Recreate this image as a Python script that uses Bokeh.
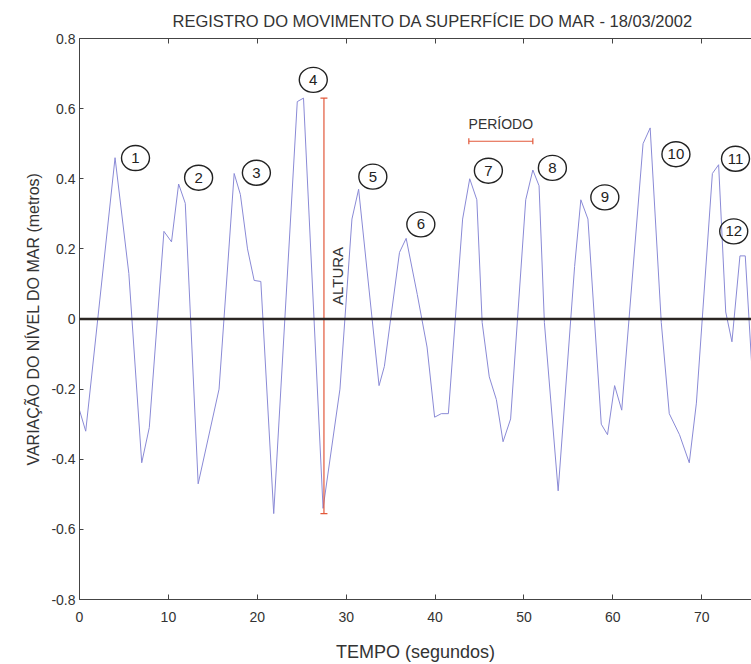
import math
from bokeh.plotting import figure
from bokeh.models import Span, LinearAxis, Range1d, FixedTicker, CustomJSTickFormatter, ColumnDataSource
from bokeh.core.properties import value
from bokeh.embed import file_html
from bokeh.resources import INLINE

# ---- data ----
tempo = [0.0, 0.7, 4.0, 5.55, 7.0, 7.85, 9.5, 10.35, 11.15, 11.9, 13.35, 15.7,
         17.4, 18.1, 18.9, 19.65, 20.4, 21.85, 24.5, 25.2, 27.4, 29.3, 30.65, 31.4,
         33.7, 34.3, 36.0, 36.75, 38.0, 39.1, 39.95, 40.7, 41.5, 43.1, 43.9, 44.7,
         45.3, 46.1, 46.9, 47.65, 48.5, 50.2, 51.0, 51.7, 52.3, 53.85, 55.7, 56.4,
         57.2, 58.7, 59.4, 60.2, 61.0, 63.4, 64.2, 65.45, 66.35, 67.5, 68.6, 69.4,
         71.2, 71.9, 72.7, 73.4, 74.3, 74.9, 75.9]
nivel = [-0.26, -0.32, 0.46, 0.13, -0.41, -0.31, 0.25, 0.22, 0.385, 0.33, -0.47, -0.20,
         0.415, 0.355, 0.20, 0.11, 0.107, -0.555, 0.62, 0.63, -0.54, -0.20, 0.285, 0.37,
         -0.19, -0.135, 0.19, 0.23, 0.07, -0.08, -0.28, -0.27, -0.27, 0.285, 0.40, 0.34,
         -0.01, -0.165, -0.23, -0.35, -0.285, 0.34, 0.425, 0.38, -0.01, -0.49, 0.15, 0.34,
         0.285, -0.30, -0.33, -0.19, -0.26, 0.50, 0.545, -0.01, -0.27, -0.33, -0.41, -0.24,
         0.415, 0.44, 0.02, -0.065, 0.18, 0.18, -0.25]

onda_num = ["1", "2", "3", "4", "5", "6", "7", "8", "9", "10", "11", "12"]
onda_x = [6.3, 13.4, 19.9, 26.3, 33.0, 38.4, 46.0, 53.2, 59.1, 67.1, 73.8, 73.6]
onda_y = [0.459, 0.403, 0.417, 0.682, 0.406, 0.27, 0.423, 0.431, 0.347, 0.47, 0.457, 0.25]

altura_x = 27.5
altura_y = [-0.555, 0.63]
altura_label_pos = (29.0, 0.04)

periodo_x = [43.8, 51.0]
periodo_y = 0.507
periodo_label_pos = (47.4, 0.556)

x_ticks = [0, 10, 20, 30, 40, 50, 60, 70]
y_ticks = [-0.8, -0.6, -0.4, -0.2, 0, 0.2, 0.4, 0.6, 0.8]

FONT = "Liberation Sans"
AXC = "#444444"
TXT = "#333333"
WAVE = "#8a8ad6"
RED = "#e2583a"

p = figure(width=751, height=664, output_backend="svg", toolbar_location=None,
           x_range=Range1d(0, 75.6), y_range=Range1d(-0.8, 0.8),
           x_axis_location="below", y_axis_location="left",
           min_border_left=79, min_border_right=0, min_border_top=38, min_border_bottom=64)
p.outline_line_color = None
p.grid.visible = False
p.background_fill_color = "white"

p.title.text = "REGISTRO DO MOVIMENTO DA SUPERFÍCIE DO MAR - 18/03/2002"
p.title.text_font = FONT
p.title.text_font_size = "16.5px"
p.title.text_font_style = "normal"
p.title.text_color = TXT
p.title.align = "left"
p.title.offset = 93
p.title.standoff = 17

for ax in p.xaxis:
    ax.ticker = FixedTicker(ticks=x_ticks)
    ax.axis_label = "TEMPO (segundos)"
    ax.axis_label_text_font = FONT
    ax.axis_label_text_font_size = "18px"
    ax.axis_label_text_font_style = "normal"
    ax.axis_label_text_color = TXT
    ax.axis_label_standoff = 17
    ax.major_label_text_font = FONT
    ax.major_label_text_font_size = "14px"
    ax.major_label_text_color = TXT
    ax.major_label_standoff = 12
    ax.major_tick_in = 5
    ax.major_tick_out = 0
    ax.minor_tick_in = 0
    ax.minor_tick_out = 0
    ax.axis_line_color = AXC
    ax.major_tick_line_color = AXC

for ax in p.yaxis:
    ax.ticker = FixedTicker(ticks=y_ticks)
    ax.formatter = CustomJSTickFormatter(code="return Math.abs(tick) < 1e-9 ? '0' : tick.toFixed(1);")
    ax.axis_label = "VARIAÇÃO DO NÍVEL DO MAR (metros)"
    ax.axis_label_text_font = FONT
    ax.axis_label_text_font_size = "16px"
    ax.axis_label_text_font_style = "normal"
    ax.axis_label_text_color = TXT
    ax.axis_label_standoff = 6
    ax.major_label_text_font = FONT
    ax.major_label_text_font_size = "14px"
    ax.major_label_text_color = TXT
    ax.major_label_standoff = 4
    ax.major_tick_in = 4
    ax.major_tick_out = 0
    ax.minor_tick_in = 0
    ax.minor_tick_out = 0
    ax.axis_line_color = AXC
    ax.major_tick_line_color = AXC

top = LinearAxis(ticker=FixedTicker(ticks=x_ticks),
                 formatter=CustomJSTickFormatter(code="return '';"),
                 major_tick_in=5, major_tick_out=0, minor_tick_in=0, minor_tick_out=0,
                 axis_line_color=AXC, major_tick_line_color=AXC,
                 major_label_text_font_size="1px", major_label_standoff=0)
p.add_layout(top, "above")

# zero line
p.add_layout(Span(location=0, dimension="width", line_color="#2b2622", line_width=2.5))

# wave record
p.line(tempo, nivel, line_color=WAVE, line_width=1)

# ALTURA marker
p.segment(x0=[altura_x], y0=[altura_y[0]], x1=[altura_x], y1=[altura_y[1]],
          line_color=RED, line_width=1.2)
p.scatter([altura_x, altura_x], altura_y, marker="dash", size=7,
          line_color=RED, line_width=1.2)
p.text(x=[altura_label_pos[0]], y=[altura_label_pos[1]], text=["ALTURA"],
       angle=math.pi / 2, text_align="left", text_baseline="middle",
       text_font=value(FONT), text_font_size="15px", text_color=TXT)

# PERÍODO marker
p.segment(x0=[periodo_x[0]], y0=[periodo_y], x1=[periodo_x[1]], y1=[periodo_y],
          line_color=RED, line_width=1.2)
p.scatter(periodo_x, [periodo_y, periodo_y], marker="dash", size=6, angle=math.pi / 2,
          line_color=RED, line_width=1.2)
p.text(x=[periodo_label_pos[0]], y=[periodo_label_pos[1]], text=["PERÍODO"],
       text_align="center", text_baseline="middle",
       text_font=value(FONT), text_font_size="14px", text_color=TXT)

# numbered circles
src = ColumnDataSource(dict(x=onda_x, y=onda_y, t=onda_num))
p.ellipse(x="x", y="y", width=28, height=25, width_units="screen", height_units="screen",
          source=src, fill_color=None, line_color="#222222", line_width=1.4)
p.text(x="x", y="y", text="t", source=src, text_align="center", text_baseline="middle",
       text_font=value(FONT), text_font_size="15px", text_color="#222222")

open("out.html", "w").write(file_html(p, INLINE))
